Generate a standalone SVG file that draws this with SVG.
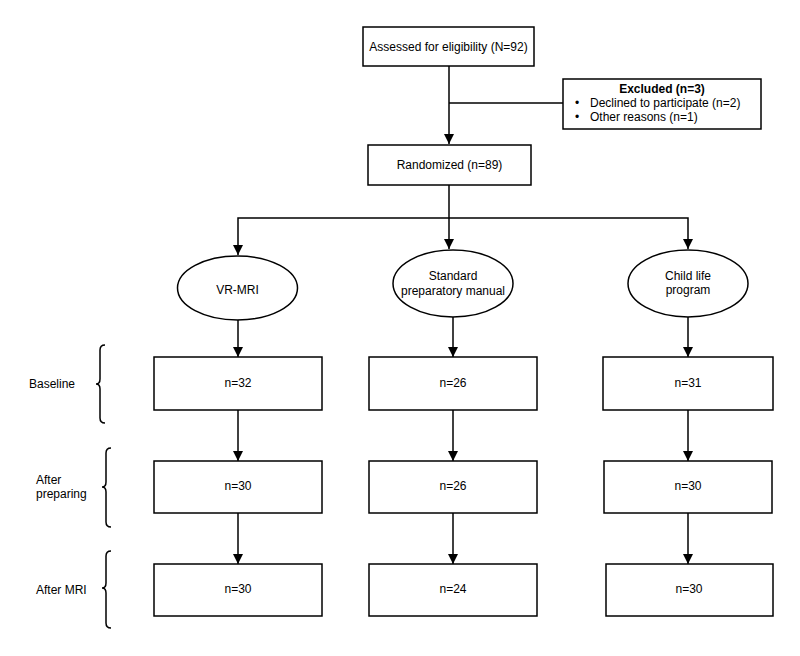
<svg xmlns="http://www.w3.org/2000/svg" width="800" height="656" viewBox="0 0 800 656">
<style>
.box{fill:#fff;stroke:#000;stroke-width:1.5}
.ln{fill:none;stroke:#000;stroke-width:1.5}
.t{font-family:"Liberation Sans",Arial,sans-serif;font-size:12px;fill:#000}
.c{text-anchor:middle}
.b{font-weight:bold}
</style>
<defs>
<marker id="ah" markerUnits="userSpaceOnUse" markerWidth="10" markerHeight="12" refX="10" refY="5" orient="auto">
<path d="M0,0 L10,5 L0,10 Z" fill="#000"/>
</marker>
</defs>
<rect width="800" height="656" fill="#fff"/>
<g id="connectors">
<line class="ln" x1="449" y1="66" x2="449" y2="144" marker-end="url(#ah)"/>
<line class="ln" x1="449" y1="103" x2="563" y2="103"/>
<polyline class="ln" points="449,185 449,218 449,249" marker-end="url(#ah)"/>
<polyline class="ln" points="449,218 238,218 238,255" marker-end="url(#ah)"/>
<polyline class="ln" points="449,218 688,218 688,249" marker-end="url(#ah)"/>
<line class="ln" x1="238" y1="320" x2="238" y2="357" marker-end="url(#ah)"/>
<line class="ln" x1="453" y1="317" x2="453" y2="357" marker-end="url(#ah)"/>
<line class="ln" x1="688" y1="317" x2="688" y2="357" marker-end="url(#ah)"/>
<line class="ln" x1="238" y1="410" x2="238" y2="461" marker-end="url(#ah)"/>
<line class="ln" x1="453" y1="410" x2="453" y2="461" marker-end="url(#ah)"/>
<line class="ln" x1="688" y1="410" x2="688" y2="461" marker-end="url(#ah)"/>
<line class="ln" x1="238" y1="513" x2="238" y2="564" marker-end="url(#ah)"/>
<line class="ln" x1="453" y1="513" x2="453" y2="564" marker-end="url(#ah)"/>
<line class="ln" x1="688" y1="513" x2="688" y2="564" marker-end="url(#ah)"/>
</g>
<g id="assessed">
<rect class="box" x="363" y="27" width="171" height="39"/>
<text class="t c" x="448.5" y="51">Assessed for eligibility (N=92)</text>
</g>
<g id="excluded">
<rect class="box" x="563" y="79" width="198" height="50"/>
<text class="t c b" x="662" y="93">Excluded (n=3)</text>
<text class="t" x="575" y="107">•</text>
<text class="t" x="590" y="107">Declined to participate (n=2)</text>
<text class="t" x="575" y="121">•</text>
<text class="t" x="590" y="121">Other reasons (n=1)</text>
</g>
<g id="randomized">
<rect class="box" x="368" y="145" width="163" height="40"/>
<text class="t c" x="449.5" y="169">Randomized (n=89)</text>
</g>
<g id="vr-mri">
<ellipse class="box" cx="237.5" cy="288" rx="60" ry="32"/>
<text class="t c" x="237.5" y="294">VR-MRI</text>
</g>
<g id="standard">
<ellipse class="box" cx="453" cy="283.5" rx="60" ry="33.5"/>
<text class="t c" x="453" y="280">Standard</text>
<text class="t c" x="453" y="295">preparatory manual</text>
</g>
<g id="childlife">
<ellipse class="box" cx="688" cy="283.5" rx="60" ry="33.5"/>
<text class="t c" x="688" y="280">Child life</text>
<text class="t c" x="688" y="294">program</text>
</g>
<g id="vr-baseline"><rect class="box" x="154" y="357" width="168" height="53"/><text class="t c" x="238" y="387">n=32</text></g>
<g id="std-baseline"><rect class="box" x="369" y="357" width="168" height="53"/><text class="t c" x="453" y="387">n=26</text></g>
<g id="cl-baseline"><rect class="box" x="603" y="357" width="170" height="53"/><text class="t c" x="688" y="387">n=31</text></g>
<g id="vr-prep"><rect class="box" x="154" y="461" width="168" height="52"/><text class="t c" x="238" y="490">n=30</text></g>
<g id="std-prep"><rect class="box" x="369" y="461" width="168" height="52"/><text class="t c" x="453" y="490">n=26</text></g>
<g id="cl-prep"><rect class="box" x="604" y="461" width="168" height="52"/><text class="t c" x="688" y="490">n=30</text></g>
<g id="vr-mri-after"><rect class="box" x="154" y="564" width="168" height="52"/><text class="t c" x="238" y="593">n=30</text></g>
<g id="std-mri-after"><rect class="box" x="369" y="564" width="168" height="52"/><text class="t c" x="453" y="593">n=24</text></g>
<g id="cl-mri-after"><rect class="box" x="606" y="564" width="167" height="52"/><text class="t c" x="689" y="593">n=30</text></g>
<g id="label-baseline">
<path class="ln" d="M105,345 Q100,345 100,350 L100,379 Q100,384 96,384 Q100,384 100,389 L100,418 Q100,423 105,423"/>
<text class="t" x="29" y="388">Baseline</text>
</g>
<g id="label-preparing">
<path class="ln" d="M111,448 Q106,448 106,453 L106,482 Q106,487 102,487 Q106,487 106,492 L106,522 Q106,527 111,527"/>
<text class="t" x="36" y="484">After</text>
<text class="t" x="36" y="498">preparing</text>
</g>
<g id="label-after-mri">
<path class="ln" d="M111,551 Q106,551 106,556 L106,583 Q106,588 102,588 Q106,588 106,593 L106,623 Q106,628 111,628"/>
<text class="t" x="36" y="594">After MRI</text>
</g>
</svg>
